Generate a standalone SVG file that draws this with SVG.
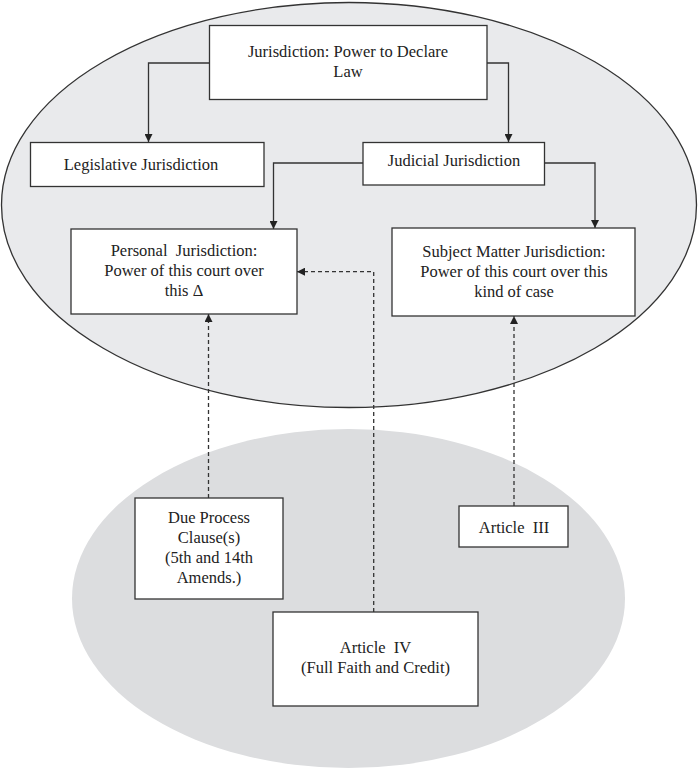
<svg xmlns="http://www.w3.org/2000/svg" width="698" height="770" viewBox="0 0 698 770">
<style>
.box{fill:#fff;stroke:#333;stroke-width:1.3}
.t{font-family:"Liberation Serif","Times New Roman",serif;font-size:16.5px;fill:#222;text-anchor:middle}
.c{fill:none;stroke:#333;stroke-width:1.3}
.d{fill:none;stroke:#333;stroke-width:1.3;stroke-dasharray:4 3}
</style>
<defs>
<marker id="ah" viewBox="0 0 10 10" refX="10" refY="5" markerWidth="8" markerHeight="8" markerUnits="userSpaceOnUse" orient="auto">
<path d="M0,0 L10,5 L0,10 z" fill="#222"/>
</marker>
</defs>
<rect width="698" height="770" fill="#fff"/>
<ellipse id="upper-ellipse" cx="349" cy="205" rx="347.5" ry="202.5" fill="#e9eaec" stroke="#333" stroke-width="1.3"/>
<ellipse id="lower-ellipse" cx="348.5" cy="598.5" rx="276.5" ry="169.5" fill="#dcdddf"/>
<g id="connectors">
<path class="c" d="M209,63 H148.5 V142" marker-end="url(#ah)"/>
<path class="c" d="M487,63 H508.5 V142" marker-end="url(#ah)"/>
<path class="c" d="M363,163 H273.5 V229" marker-end="url(#ah)"/>
<path class="c" d="M544.5,163 H595 V228" marker-end="url(#ah)"/>
<path class="d" d="M208.5,498 V314" marker-end="url(#ah)"/>
<path class="d" d="M373.7,612 V271.7 H297" marker-end="url(#ah)"/>
<path class="d" d="M514,506 V316" marker-end="url(#ah)"/>
</g>
<g id="node-jurisdiction">
<rect class="box" x="209.5" y="25.5" width="277.5" height="74"/>
<text class="t" x="348" y="57">Jurisdiction: Power to Declare</text>
<text class="t" x="348" y="77">Law</text>
</g>
<g id="node-legislative">
<rect class="box" x="30.5" y="142.5" width="233.5" height="44"/>
<text class="t" x="141" y="170">Legislative Jurisdiction</text>
</g>
<g id="node-judicial">
<rect class="box" x="363" y="142.5" width="181.5" height="42.5"/>
<text class="t" x="454" y="166">Judicial Jurisdiction</text>
</g>
<g id="node-personal">
<rect class="box" x="71" y="229" width="226" height="85"/>
<text class="t" x="184" y="256" xml:space="preserve">Personal  Jurisdiction:</text>
<text class="t" x="184" y="276">Power of this court over</text>
<text class="t" x="184" y="296">this Δ</text>
</g>
<g id="node-subject">
<rect class="box" x="392" y="228" width="243" height="88"/>
<text class="t" x="514" y="257">Subject Matter Jurisdiction:</text>
<text class="t" x="514" y="277">Power of this court over this</text>
<text class="t" x="514" y="297">kind of case</text>
</g>
<g id="node-due-process">
<rect class="box" x="135" y="498" width="148" height="101"/>
<text class="t" x="209" y="523">Due Process</text>
<text class="t" x="209" y="543">Clause(s)</text>
<text class="t" x="209" y="563">(5th and 14th</text>
<text class="t" x="209" y="583">Amends.)</text>
</g>
<g id="node-article-iii">
<rect class="box" x="459" y="506" width="109" height="41"/>
<text class="t" x="514" y="533" xml:space="preserve">Article  III</text>
</g>
<g id="node-article-iv">
<rect class="box" x="273" y="612" width="205" height="94"/>
<text class="t" x="375.5" y="653" xml:space="preserve">Article  IV</text>
<text class="t" x="375.5" y="673">(Full Faith and Credit)</text>
</g>
</svg>
